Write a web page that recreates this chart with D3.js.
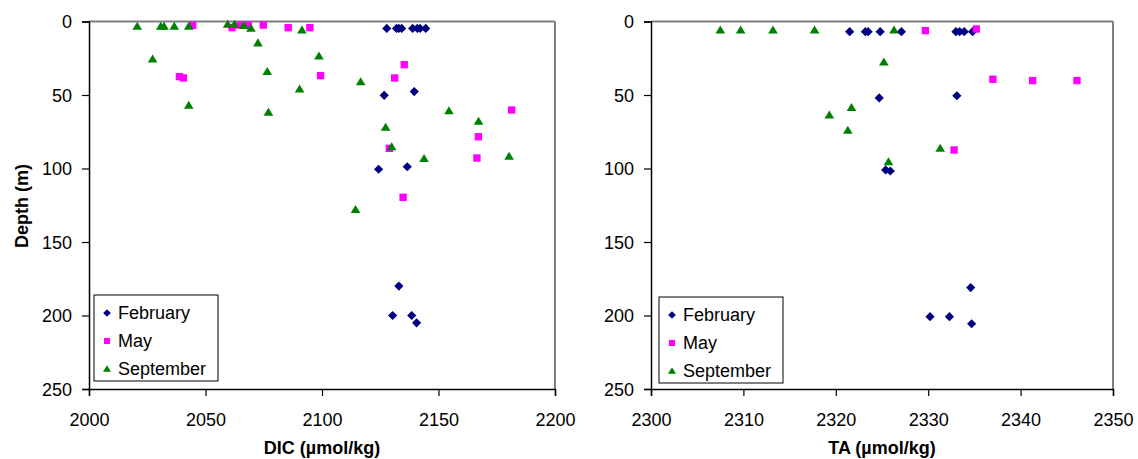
<!DOCTYPE html>
<html><head><meta charset="utf-8">
<script src="https://cdn.jsdelivr.net/npm/d3@7"></script>
<style>
html,body{margin:0;padding:0;background:#fff;}
svg{display:block;font-family:"Liberation Sans",Arial,sans-serif;}
</style></head>
<body>
<svg id="chart" width="1138" height="459"></svg>
<script>
// ---- Data ----
const seriesNames = ["February", "May", "September"];
const depthTicks = [0, 50, 100, 150, 200, 250];
const dicTicks = [2000, 2050, 2100, 2150, 2200];
const taTicks = [2300, 2310, 2320, 2330, 2340, 2350];

const febDIC   = [2127.8, 2132.0, 2133.0, 2134.2, 2138.9, 2140.9, 2142.1, 2144.5, 2126.7, 2139.6, 2124.3, 2136.6, 2133.0, 2130.3, 2138.5, 2140.6];
const febDICz  = [4.7, 4.7, 4.7, 4.7, 4.7, 4.7, 4.7, 4.7, 50.2, 47.7, 100.5, 98.8, 180, 200, 200, 205];
const mayDIC   = [2044.5, 2061.4, 2064.5, 2068.4, 2074.8, 2085.5, 2094.8, 2038.8, 2040.5, 2135.3, 2131.2, 2099.4, 2181.4, 2167.1, 2128.9, 2166.5, 2134.8];
const mayDICz  = [2.6, 4.2, 2.4, 2.4, 2.4, 4.2, 4.2, 37.5, 38.4, 29.4, 38.4, 36.8, 60.2, 78.4, 86.3, 92.9, 119.6];
const sepDIC   = [2020.7, 2030.8, 2032.2, 2036.6, 2042.8, 2059.5, 2062.4, 2066.4, 2069.5, 2091.4, 2027.3, 2042.8, 2072.5, 2076.5, 2077.0, 2098.7, 2090.4, 2116.6, 2154.5, 2167.2, 2127.3, 2129.9, 2143.8, 2180.3, 2114.4];
const sepDICz  = [3.3, 3.3, 3.3, 3.3, 3.3, 1.9, 1.9, 2.8, 4.6, 5.8, 25.5, 57, 14.6, 34, 61.8, 23.5, 46, 41, 60.7, 67.9, 72, 85.2, 93.3, 91.7, 128];

const febTA    = [2321.5, 2323.2, 2323.5, 2324.8, 2327.1, 2333.0, 2333.4, 2333.9, 2334.8, 2324.7, 2333.1, 2325.4, 2325.9, 2334.6, 2330.2, 2332.3, 2334.7];
const febTAz   = [6.9, 6.9, 6.9, 6.9, 6.9, 6.9, 6.9, 6.9, 6.9, 52, 50.5, 101, 101.7, 181, 200.8, 200.8, 205.6];
const mayTA    = [2329.7, 2335.2, 2337.0, 2341.3, 2346.1, 2332.8];
const mayTAz   = [6.2, 5.1, 39.3, 40.2, 40.2, 87.4];
const sepTA    = [2307.5, 2309.7, 2313.2, 2317.7, 2326.3, 2325.2, 2321.7, 2319.3, 2321.3, 2331.3, 2325.7];
const sepTAz   = [5.8, 5.8, 5.8, 5.8, 5.8, 27.6, 58.6, 63.6, 74, 86.3, 95.4];

// ---- Styles ----
const colors = {February: "#000080", May: "#FF00FF", September: "#008000"};
const svg = d3.select("#chart");

function markerPath(name, s) {
  if (name === "February") return `M0,${-s}L${s},0L0,${s}L${-s},0Z`;
  if (name === "May") { const h = s * 0.8; return `M${-h},${-h}H${h}V${h}H${-h}Z`; }
  return `M0,${-s}L${s * 1.05},${s * 0.75}H${-s * 1.05}Z`;
}

function drawPanel(cfg) {
  const x = d3.scaleLinear().domain(cfg.xDomain).range([cfg.x0, cfg.x1]);
  const y = d3.scaleLinear().domain([0, 250]).range([21.5, 389]);
  const g = svg.append("g");

  // plot border (top & right gray)
  g.append("line").attr("x1", cfg.x0).attr("x2", cfg.x1).attr("y1", y(0)).attr("y2", y(0))
    .attr("stroke", "#808080").attr("stroke-width", 2);
  g.append("line").attr("x1", cfg.x1).attr("x2", cfg.x1).attr("y1", y(0)).attr("y2", y(250))
    .attr("stroke", "#808080").attr("stroke-width", 2);

  // axes
  const yAxis = d3.axisLeft(y).tickValues(depthTicks).tickSize(7).tickPadding(10).tickFormat(d3.format("d"));
  const xAxis = d3.axisBottom(x).tickValues(cfg.xTicks).tickSize(7).tickPadding(17).tickFormat(d3.format("d"));
  const ya = g.append("g").attr("transform", `translate(${cfg.x0},0)`).call(yAxis);
  const xa = g.append("g").attr("transform", `translate(0,${y(250)})`).call(xAxis);
  [ya, xa].forEach(a => {
    a.select(".domain").attr("stroke", "#000").attr("stroke-width", 1.5);
    a.selectAll(".tick line").attr("stroke", "#000").attr("stroke-width", 1.2);
    a.selectAll("text").attr("font-size", 18).attr("fill", "#000")
      .attr("font-family", "'Liberation Sans', Arial, sans-serif");
  });
  ya.selectAll("text").attr("dy", "0.36em");

  // points
  cfg.series.forEach(sr => {
    g.append("g").selectAll("path").data(sr.xs.map((v, i) => [v, sr.zs[i]])).join("path")
      .attr("d", markerPath(sr.name, 4.6))
      .attr("transform", d => `translate(${x(d[0])},${y(d[1])})`)
      .attr("fill", colors[sr.name]);
  });

  // x title
  g.append("text").attr("x", (cfg.x0 + cfg.x1) / 2).attr("y", 454)
    .attr("text-anchor", "middle").attr("font-weight", "bold").attr("font-size", 18)
    .text(cfg.xTitle);

  // legend
  const L = cfg.legend;
  const lg = g.append("g");
  lg.append("rect").attr("x", L.x).attr("y", L.y).attr("width", 124).attr("height", 86)
    .attr("fill", "#fff").attr("stroke", "#000").attr("stroke-width", 1);
  seriesNames.forEach((n, i) => {
    const cy = L.y + 18 + i * 28;
    lg.append("path").attr("d", markerPath(n, 3.8)).attr("transform", `translate(${L.x + 13},${cy})`)
      .attr("fill", colors[n]);
    lg.append("text").attr("x", L.x + 24).attr("y", cy).attr("dy", "0.36em")
      .attr("font-size", 18).text(n);
  });
}

drawPanel({
  xDomain: [2000, 2200], x0: 89, x1: 555, xTicks: dicTicks, xTitle: "DIC (\u00B5mol/kg)",
  legend: {x: 94, y: 295},
  series: [
    {name: "February", xs: febDIC, zs: febDICz},
    {name: "May", xs: mayDIC, zs: mayDICz},
    {name: "September", xs: sepDIC, zs: sepDICz}
  ]
});
drawPanel({
  xDomain: [2300, 2350], x0: 651, x1: 1113, xTicks: taTicks, xTitle: "TA (\u00B5mol/kg)",
  legend: {x: 659, y: 297},
  series: [
    {name: "February", xs: febTA, zs: febTAz},
    {name: "May", xs: mayTA, zs: mayTAz},
    {name: "September", xs: sepTA, zs: sepTAz}
  ]
});

// y title
svg.append("text").attr("transform", "translate(28,206) rotate(-90)")
  .attr("text-anchor", "middle").attr("font-weight", "bold").attr("font-size", 18)
  .text("Depth (m)");
</script>
</body></html>
